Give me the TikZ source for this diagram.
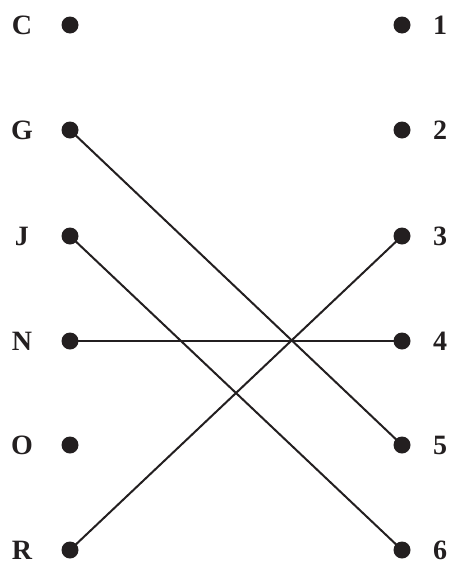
\documentclass[tikz,border=0pt]{standalone}
\usepackage{fontspec}
\setmainfont{Liberation Serif}
\definecolor{ink}{HTML}{231F20}
\newcommand{\labelfont}{\fontsize{28}{32}\selectfont\bfseries}
\begin{document}
\begin{tikzpicture}[x=1pt,y=-1pt,font=\labelfont,
  pin/.style={circle,fill=ink,inner sep=0,minimum size=17pt},
  tag/.style={inner sep=0,text=ink},
  wire/.style={ink,line width=2pt}]
\useasboundingbox (0,0) rectangle (452,568);
\node[pin] (C) at (70,25) {};
\node[pin] (G) at (70,130) {};
\node[pin] (J) at (70,236) {};
\node[pin] (N) at (70,341) {};
\node[pin] (O) at (70,445) {};
\node[pin] (R) at (70,550) {};
\node[pin] (p1) at (402,25) {};
\node[pin] (p2) at (402,130) {};
\node[pin] (p3) at (402,236) {};
\node[pin] (p4) at (402,341) {};
\node[pin] (p5) at (402,445) {};
\node[pin] (p6) at (402,550) {};
\node[tag] at (22,25) {C};
\node[tag] at (22,130) {G};
\node[tag] at (22,236) {J};
\node[tag] at (22,341) {N};
\node[tag] at (22,445) {O};
\node[tag] at (22,550) {R};
\node[tag] at (440,25) {1};
\node[tag] at (440,130) {2};
\node[tag] at (440,236) {3};
\node[tag] at (440,341) {4};
\node[tag] at (440,445) {5};
\node[tag] at (440,550) {6};
\draw[wire] (G.center) -- (p5.center);
\draw[wire] (J.center) -- (p6.center);
\draw[wire] (N.center) -- (p4.center);
\draw[wire] (R.center) -- (p3.center);
\end{tikzpicture}
\end{document}
